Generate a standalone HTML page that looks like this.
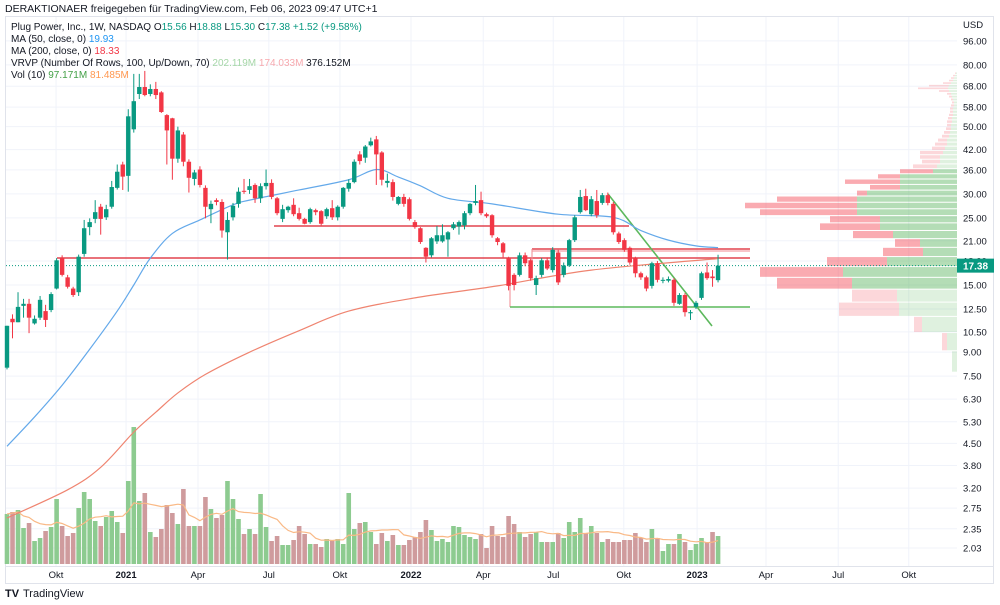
<!DOCTYPE html>
<html><head><meta charset="utf-8">
<style>
html,body{margin:0;padding:0;background:#fff;}
body{width:1000px;height:605px;overflow:hidden;font-family:"Liberation Sans",sans-serif;}
svg{display:block}
text{font-family:"Liberation Sans",sans-serif;}
</style></head>
<body>
<svg id="chart" width="1000" height="605" viewBox="0 0 1000 605" xmlns="http://www.w3.org/2000/svg">
  <rect x="0" y="0" width="1000" height="605" fill="#ffffff"/>
  <text x="5" y="12" font-size="10.5" fill="#131722">DERAKTIONAER freigegeben für TradingView.com, Feb 06, 2023 09:47 UTC+1</text>
  <rect x="5.5" y="16.5" width="988" height="567" fill="none" stroke="#e0e3eb"/>
  <g id="grid"></g>
  <g id="vrvp"></g>
  <g id="volume"></g>
  <g id="drawings"></g>
  <g id="mas"></g>
  <g id="candles"></g>
  <g id="axes"></g>
  <g id="legend">
    <text x="11" y="30" font-size="10" fill="#131722">Plug Power, Inc., 1W, NASDAQ  O<tspan fill="#089981">15.56</tspan>  H<tspan fill="#089981">18.88</tspan>  L<tspan fill="#089981">15.30</tspan>  C<tspan fill="#089981">17.38</tspan>  <tspan fill="#089981">+1.52 (+9.58%)</tspan></text>
    <text x="11" y="42" font-size="10" fill="#131722">MA (50, close, 0)  <tspan fill="#2196f3">19.93</tspan></text>
    <text x="11" y="54" font-size="10" fill="#131722">MA (200, close, 0)  <tspan fill="#f23645">18.33</tspan></text>
    <text x="11" y="66" font-size="10" fill="#131722">VRVP (Number Of Rows, 100, Up/Down, 70)  <tspan fill="#a5d6a7">202.119M</tspan>  <tspan fill="#f7a9ae">174.033M</tspan>  376.152M</text>
    <text x="11" y="78" font-size="10" fill="#131722">Vol (10)  <tspan fill="#43a047">97.171M</tspan>  <tspan fill="#ff9850">81.485M</tspan></text>
  </g>
  <g>
    <text x="5" y="597" font-size="11" font-weight="bold" fill="#131722">TV</text>
    <text x="23" y="597" font-size="11" fill="#131722">TradingView</text>
  </g>
</svg>
<script>
const opens=[8.0,11.6,11.3,12.8,13.0,11.2,11.7,12.3,12.4,14.6,18.4,15.9,14.6,14.2,19.0,23.3,24.8,27.2,25.1,27.2,31.4,37.5,34.4,49.0,64.1,67.6,64.1,66.6,64.9,54.6,53.3,39.2,47.1,38.3,33.6,36.1,31.4,26.7,28.6,28.2,22.4,25.1,27.8,30.7,30.9,32.1,29.0,31.8,32.6,29.0,24.8,26.5,27.6,25.9,24.8,24.2,26.5,26.3,25.3,26.9,25.1,27.2,31.2,32.8,40.5,39.5,43.4,45.4,41.1,32.6,32.8,27.8,29.3,28.8,24.2,23.1,19.9,18.8,20.9,20.9,21.2,23.1,23.4,23.6,25.9,28.0,28.6,25.7,25.5,21.4,20.6,18.4,16.2,16.2,18.8,18.1,15.0,16.2,18.1,16.8,19.2,16.2,17.4,21.1,26.1,29.5,25.7,28.4,28.0,29.7,27.8,22.2,21.1,19.9,18.4,16.4,15.9,14.9,17.7,15.5,15.5,15.6,13.0,13.9,12.1,12.7,13.6,16.5,16.0,15.56];
const highs=[11.0,12.0,14.2,13.5,13.5,11.9,13.8,12.9,14.2,18.4,18.8,16.2,14.8,18.9,24.6,24.9,28.6,27.8,27.6,33.1,37.5,38.3,57.1,74.7,74.7,76.4,69.0,70.3,65.5,55.0,53.5,50.0,48.0,39.0,36.0,37.0,32.0,28.5,29.0,28.8,26.1,28.0,31.5,33.6,33.6,32.5,32.5,36.1,33.5,29.3,27.6,27.4,29.0,27.0,25.0,27.0,26.8,26.5,27.0,28.6,27.5,31.6,33.5,39.0,41.5,43.5,46.0,46.6,41.5,35.0,33.5,29.5,30.0,29.2,24.6,23.3,20.0,21.6,23.5,23.8,22.6,24.2,24.5,26.3,28.0,32.1,30.5,26.0,25.7,21.6,20.8,18.6,16.4,19.2,19.2,18.3,16.1,18.4,18.5,20.0,19.6,17.8,21.3,25.5,30.9,31.2,29.5,30.9,30.2,30.3,28.2,22.5,21.4,20.1,18.6,16.6,16.1,17.9,18.0,15.9,16.0,15.8,14.1,14.1,12.4,13.3,16.6,17.8,16.8,18.88];
const lows=[7.9,10.0,11.3,11.7,10.4,11.1,11.5,10.9,12.2,14.5,16.0,14.6,13.7,13.8,18.6,21.9,24.0,22.0,24.6,26.8,31.0,30.9,30.5,47.8,61.7,63.0,63.0,61.7,55.5,37.5,33.4,38.0,37.0,30.3,32.0,31.5,24.9,24.0,27.5,21.5,18.2,24.5,27.0,30.0,30.0,28.0,28.0,31.0,28.8,25.5,24.2,26.0,25.3,24.5,23.8,23.9,25.5,23.6,24.8,24.6,24.5,26.8,30.5,32.5,37.5,38.0,43.0,32.1,32.0,31.5,28.5,27.5,27.2,24.5,23.0,20.5,17.8,18.5,20.5,20.7,18.6,22.8,22.0,22.9,25.5,27.5,25.5,25.0,21.5,20.3,18.5,14.4,14.4,16.0,17.3,15.5,13.9,15.9,16.8,16.5,15.0,15.9,17.2,20.8,25.8,26.3,25.3,25.0,27.6,27.5,22.0,20.5,19.3,17.5,15.9,15.6,14.3,14.6,15.3,15.2,15.3,12.8,12.9,11.8,11.5,12.5,13.4,15.6,14.8,15.30];
const closes=[11.0,11.3,12.7,13.0,11.7,11.6,13.4,11.5,14.0,18.1,16.2,14.8,13.9,18.6,23.1,24.2,26.1,24.8,26.7,31.6,35.5,34.2,54.1,60.7,67.6,63.6,66.6,63.6,55.9,48.6,39.2,48.6,38.3,33.9,35.3,32.1,27.2,27.8,28.2,22.7,24.6,27.4,30.5,30.5,31.8,29.0,31.8,32.6,29.3,25.9,26.7,27.2,25.7,24.8,23.9,26.7,26.1,23.9,26.7,25.1,27.2,31.4,32.6,38.3,38.5,43.0,44.7,40.5,33.4,33.1,29.3,29.3,27.8,24.8,23.3,20.8,18.6,21.4,21.9,21.9,22.4,23.8,24.2,25.9,27.8,28.4,25.9,25.3,21.9,20.8,19.2,14.9,15.0,18.8,17.7,15.8,15.8,18.1,17.0,19.6,15.3,17.4,21.1,25.1,29.3,26.5,28.8,25.5,29.7,28.0,22.4,20.8,19.6,17.8,16.4,15.9,14.6,17.7,15.6,15.6,15.7,13.1,13.9,12.2,12.2,13.1,16.4,15.8,15.8,17.38];
const volumes=[200,208,216,144,164,92,104,132,148,260,152,112,124,224,288,260,172,152,188,212,168,124,332,548,252,284,128,108,140,236,204,160,300,152,152,152,268,220,184,196,332,260,180,120,140,120,280,148,92,112,76,76,96,152,120,80,80,68,100,92,100,80,284,140,164,168,128,80,124,92,116,76,76,96,108,128,176,136,92,100,88,152,148,116,108,100,120,64,152,112,108,192,160,128,108,120,128,88,88,88,124,104,168,128,184,124,152,124,88,100,88,88,96,96,124,104,88,140,104,52,80,80,120,88,56,80,104,88,128,112];
const ma50Idx=[0,5,10,15,20,23,26,30,35,41,44,53,62,67,71,75,80,88,100,110,115,120,125,129];
const ma50Val=[4.4,5.5,7.0,9.2,12.3,15.0,18.4,22.2,24.6,27.6,28.6,30.9,33.4,36.1,34.1,31.9,29.0,27.8,25.7,25.1,22.7,21.1,20.2,19.93];
const ma200Idx=[0,11,17,23,27,31,36,44,53,62,74,89,106,129];
const ma200Val=[2.55,3.16,3.75,4.9,5.7,6.6,7.6,9.0,10.6,12.3,13.6,14.9,16.8,18.33];
const vrvpBottom=[7.7,9.06,10.41,11.77,13.12,14.48,15.84,17.19,18.55,19.9,21.26,22.62,23.97,25.33,26.68,28.04,29.4,30.75,32.11,33.46,34.82,36.18,37.53,38.89,40.24,41.6,42.96,44.31,45.67,47.02,48.38,49.74,51.09,52.45,53.8,55.16,56.52,57.87,59.23,60.58,61.94,63.3,64.65,66.01,67.36,68.72,70.08,71.43,72.79,74.14,75.5];
const vrvpUp=[5,10,35,58,60,105,114,70,34,37,64,77,77,100,100,100,90,57,57,57,24,20,17,17,14,12,10,10,8,7,6,6,5,5,4,4,4,3,3,4,5,6,8,9,8,6,4,3,2,1];
const vrvpDown=[0,5,8,60,45,75,83,60,40,25,40,60,50,97,112,80,10,30,55,22,33,24,18,20,23,13,12,9,7,6,5,4,5,4,4,3,3,3,2,2,3,4,10,30,20,8,4,3,2,1];
const priceTicks=["96.00","80.00","68.00","58.00","50.00","42.00","36.00","30.00","25.00","21.00","18.00","15.00","12.50","10.50","9.00","7.50","6.30","5.30","4.50","3.80","3.20","2.75","2.35","2.03"];
const timeLabels=["Okt","2021","Apr","Jul","Okt","2022","Apr","Jul","Okt","2023","Apr","Jul","Okt"];
const timeLabelIdx=[8.9,21.6,34.65,47.5,60.4,73.3,86.4,99.1,111.9,125.2,137.7,150.8,163.6];
const lastPrice=17.38;

const NS="http://www.w3.org/2000/svg";
const xOf=i=>7+5.512*i;
const yOf=p=>285-131.5*Math.log(p/15);
const volBase=564, volScale=0.25;
const yVol=v=>volBase-v*volScale;
function mk(tag,attrs,parent){const e=document.createElementNS(NS,tag);for(const k in attrs)e.setAttribute(k,attrs[k]);parent.appendChild(e);return e;}
const G=id=>document.getElementById(id);

const grid=G('grid');
priceTicks.forEach(t=>{const y=yOf(parseFloat(t));const l=mk('line',{x1:6,x2:957,y1:y,y2:y,stroke:'#f0f3fa','stroke-width':1},grid);

});
timeLabelIdx.forEach(i=>{const x=xOf(i);const l=mk('line',{x1:x,x2:x,y1:17,y2:567,stroke:'#f0f3fa','stroke-width':1},grid);

});

const vr=G('vrvp');const vrRight=957, vrScale=1;
for(let k=0;k<vrvpUp.length;k++){
  const y1=yOf(vrvpBottom[k]), y2=yOf(vrvpBottom[k+1]);
  const h=Math.max(0.8,y1-y2-1);
  const va=(k>=5&&k<=20);
  const up=vrvpUp[k]*vrScale, dn=vrvpDown[k]*vrScale;
  const g=mk('rect',{x:vrRight-up,y:y2,width:up,height:h,fill:va?'rgba(76,175,80,0.42)':'rgba(76,175,80,0.18)'},vr);
  
  
  const r=mk('rect',{x:vrRight-up-dn,y:y2,width:dn,height:h,fill:va?'rgba(242,54,69,0.42)':'rgba(242,54,69,0.2)'},vr);
  
  
}

const vg=G('volume');
volumes.forEach((v,i)=>{const up=closes[i]>=opens[i];
  const b=mk('rect',{x:xOf(i)-2.3,y:yVol(v),width:4.6,height:v*volScale,fill:up?'#8dcb90':'#cf9b9d'},vg);
  
  });
let vpts=[];
for(let i=0;i<volumes.length;i++){const s=volumes.slice(Math.max(0,i-9),i+1);const m=s.reduce((a,b)=>a+b,0)/s.length;vpts.push([xOf(i),yVol(m)]);}
const vma=mk('polyline',{points:vpts.map(p=>p.join(',')).join(' '),fill:'none',stroke:'#f9b986','stroke-width':1.2},vg);



const dr=G('drawings');
function ln(x1,y1,x2,y2,c,w,name){const l=mk('line',{x1,y1,x2,y2,stroke:c,'stroke-width':w},dr);

}
ln(57,258,750,258,'#e2434f',1.6,'resistance-line-18');
ln(274,226,629,226,'#e2434f',1.6,'resistance-line-23');
ln(532,249,750,249,'#e2434f',1.4,'rect-top-line');
ln(532,251,750,251,'#f08a90',1,'rect-top-line-2');
ln(532,249,532,279,'#f08a90',1,'rect-left-line');
ln(510,258,510,307,'#f08a90',1,'box-left-line');
ln(510,307,750,307,'#5cb85c',1.6,'support-line-green');
ln(608,194,712,326,'#5cb85c',1.6,'downtrend-line');
const yl=yOf(lastPrice);
const dl=mk('line',{x1:6,x2:957,y1:yl,y2:yl,stroke:'#089981','stroke-width':1,'stroke-dasharray':'1 2'},dr);



function smooth(pts){let d='M'+pts[0][0]+','+pts[0][1];
  for(let i=0;i<pts.length-1;i++){const p0=pts[Math.max(0,i-1)],p1=pts[i],p2=pts[i+1],p3=pts[Math.min(pts.length-1,i+2)];
    const c1=[p1[0]+(p2[0]-p0[0])/6,p1[1]+(p2[1]-p0[1])/6],c2=[p2[0]-(p3[0]-p1[0])/6,p2[1]-(p3[1]-p1[1])/6];
    d+=` C${c1[0]},${c1[1]} ${c2[0]},${c2[1]} ${p2[0]},${p2[1]}`;}return d;}
const mg=G('mas');
const m50=mk('path',{d:smooth(ma50Idx.map((i,k)=>[xOf(i),yOf(ma50Val[k])])),fill:'none',stroke:'#64a9ea','stroke-width':1.2},mg);


const m200=mk('path',{d:smooth(ma200Idx.map((i,k)=>[xOf(i),yOf(ma200Val[k])])),fill:'none',stroke:'#ef8470','stroke-width':1.2},mg);



const cg=G('candles');
for(let i=0;i<opens.length;i++){
  const up=closes[i]>=opens[i];const c=up?'#089981':'#f23645';const x=xOf(i);
  const w=mk('line',{x1:x,x2:x,y1:yOf(highs[i]),y2:yOf(lows[i]),stroke:c,'stroke-width':1},cg);
  
  
  const yt=yOf(Math.max(opens[i],closes[i])),yb=yOf(Math.min(opens[i],closes[i]));
  const b=mk('rect',{x:x-2.2,y:yt,width:4.4,height:Math.max(1,yb-yt),fill:c},cg);
  
  
}

const ax=G('axes');
const usd=mk('text',{x:963,y:28,'font-size':9.5,fill:'#131722'},ax);usd.textContent='USD';


priceTicks.forEach(t=>{const tx=mk('text',{x:963,y:yOf(parseFloat(t))+3.5,'font-size':9.5,fill:'#131722'},ax);tx.textContent=t;

});
const pl=mk('rect',{x:957,y:yl-7,width:37,height:14,fill:'#089981'},ax);


const pt=mk('text',{x:975.5,y:yl+4,'font-size':10,fill:'#fff','text-anchor':'middle','font-weight':'bold'},ax);pt.textContent=lastPrice.toFixed(2);


const bl=mk('line',{x1:6,x2:993,y1:566.5,y2:566.5,stroke:'#e0e3eb'},ax);


timeLabels.forEach((t,k)=>{const bold=/^\d{4}$/.test(t);const tx=mk('text',{x:xOf(timeLabelIdx[k]),y:578,'font-size':9.5,fill:'#131722','text-anchor':'middle','font-weight':bold?'bold':'normal'},ax);tx.textContent=t;

});
</script>
</body></html>
